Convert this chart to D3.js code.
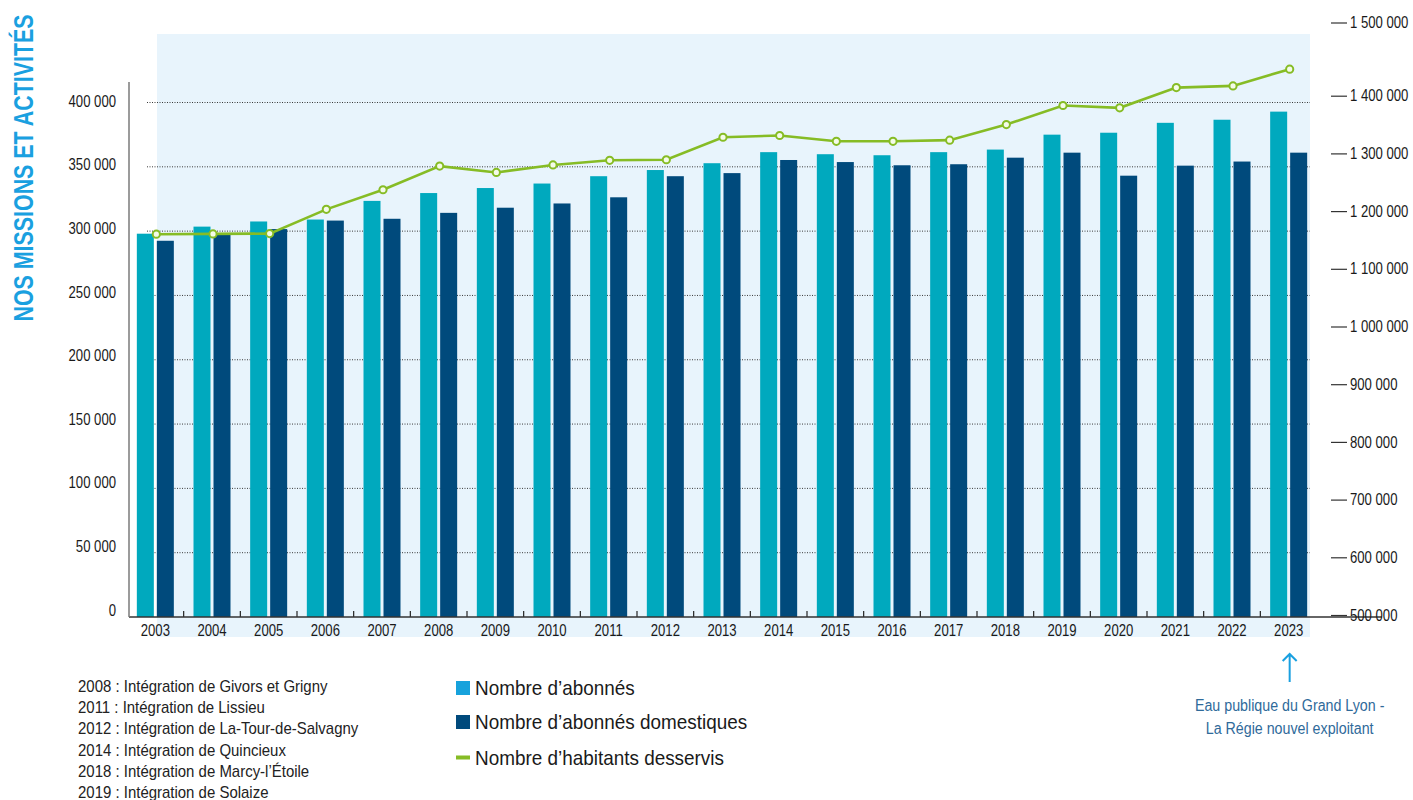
<!DOCTYPE html>
<html><head><meta charset="utf-8">
<script src="https://cdn.jsdelivr.net/npm/d3@7"></script>
<style>
body{margin:0;background:#fff;}
svg{display:block;font-family:"Liberation Sans","Arial",sans-serif;}
</style></head><body>
<svg id="c" width="1413" height="800"></svg>
<script>
const years = ["2003","2004","2005","2006","2007","2008","2009","2010","2011","2012","2013","2014","2015","2016","2017","2018","2019","2020","2021","2022","2023"];
const abonnes = [298000,303500,307500,309000,323500,329600,333500,337000,342700,347500,352800,361400,359800,359000,361400,363400,375000,376500,384200,386600,392900];
const domestiques = [292500,297000,301600,308200,309600,314200,318200,321500,326300,342700,345100,355300,353700,351200,352000,357100,361000,343100,350900,354100,361000];
const habitants = [1160000,1160500,1161000,1203000,1237000,1278000,1267000,1280000,1288000,1289000,1328000,1331000,1321000,1321000,1323000,1350000,1383000,1379000,1414000,1417000,1446000];
const leftTicks = [0,50000,100000,150000,200000,250000,300000,350000,400000];
const rightTicks = [500000,600000,700000,800000,900000,1000000,1100000,1200000,1300000,1400000];
const rightTopTick = 1500000;
const seriesNames = ["Nombre d\u2019abonnés","Nombre d\u2019abonnés domestiques","Nombre d\u2019habitants desservis"];
const footnotes = ["2008 : Intégration de Givors et Grigny","2011 : Intégration de Lissieu","2012 : Intégration de La-Tour-de-Salvagny","2014 : Intégration de Quincieux","2018 : Intégration de Marcy-l\u2019Étoile","2019 : Intégration de Solaize"];
const annotation = ["Eau publique du Grand Lyon -","La Régie nouvel exploitant"];
const title = "NOS MISSIONS ET ACTIVITÉS";

const C = {teal:"#00a9be", navy:"#004a7c", green:"#86bc25", bg:"#e8f4fc", legTeal:"#17a2dc", title:"#1aa0e0", annot:"#2f6a9a", arrow:"#1aa0e0"};
const loc = d3.formatLocale({decimal:",", thousands:"\u00a0", grouping:[3], currency:["","€"]});
const fmt = loc.format(",");

const svg = d3.select("#c");

// condensed look: squeeze text horizontally
function squeeze(sel, k){
  sel.each(function(){
    const L = this.getComputedTextLength();
    d3.select(this).attr("textLength", L*k).attr("lengthAdjust","spacingAndGlyphs");
  });
}

// plot background
svg.append("rect").attr("x",157).attr("y",34).attr("width",1310-157).attr("height",637-34).attr("fill",C.bg);

const x0 = d3.scaleBand().domain(years).range([127,1317]).paddingInner(0.347).paddingOuter(0.1735);
const x1 = d3.scaleBand().domain(["a","d"]).range([0,x0.bandwidth()]).paddingInner(0.15);
const yL = d3.scaleLinear().domain([0,400000]).range([617,102.5]);
const yLab = d3.scaleLinear().domain([0,400000]).range([610,101]);
const yR = d3.scaleLinear().domain([500000,1400000]).range([615,95.7]);

// gridlines
svg.append("g").selectAll("line").data(leftTicks.filter(d=>d>0)).join("line")
  .attr("x1",147).attr("x2",1310).attr("y1",d=>yL(d)).attr("y2",d=>yL(d))
  .attr("stroke","#3a3a3a").attr("stroke-width",1).attr("stroke-dasharray","1,1.5");

// bars
const gb = svg.append("g");
years.forEach((yr,i)=>{
  gb.append("rect").attr("x",x0(yr)+x1("a")).attr("width",x1.bandwidth())
    .attr("y",yL(abonnes[i])).attr("height",yL(0)-yL(abonnes[i])).attr("fill",C.teal);
  gb.append("rect").attr("x",x0(yr)+x1("d")).attr("width",x1.bandwidth())
    .attr("y",yL(domestiques[i])).attr("height",yL(0)-yL(domestiques[i])).attr("fill",C.navy);
});

// x ticks between groups
svg.append("g").selectAll("line").data(years.slice(1)).join("line")
  .attr("x1",d=>x0(d)-x0.step()*x0.paddingInner()/2).attr("x2",d=>x0(d)-x0.step()*x0.paddingInner()/2)
  .attr("y1",611).attr("y2",617).attr("stroke","#222").attr("stroke-width",1.2);

// baseline & left axis line
svg.append("line").attr("x1",129).attr("x2",1382).attr("y1",617).attr("y2",617).attr("stroke","#333").attr("stroke-width",1.5);
svg.append("line").attr("x1",129).attr("x2",129).attr("y1",82).attr("y2",617).attr("stroke","#7a7a7a").attr("stroke-width",1.5);

// x labels
const gx = svg.append("g").attr("transform","translate(0,617)")
  .call(d3.axisBottom(x0).tickSize(0).tickPadding(8));
gx.select(".domain").remove();
gx.selectAll("text").attr("font-size",16).attr("fill","#1a1a1a").attr("font-family",null);
squeeze(gx.selectAll("text"),0.82);

// left axis labels
const gl = svg.append("g").attr("transform","translate(116,0)")
  .call(d3.axisLeft(yLab).tickValues(leftTicks).tickSize(0).tickPadding(0).tickFormat(fmt));
gl.select(".domain").remove();
gl.selectAll("text").attr("font-size",16).attr("fill","#1a1a1a").attr("font-family",null);
squeeze(gl.selectAll("text"),0.82);

// right axis
const gr = svg.append("g").attr("transform","translate(1331,0)")
  .call(d3.axisRight(yR).tickValues(rightTicks).tickSize(16).tickPadding(3).tickFormat(fmt));
gr.select(".domain").remove();
gr.selectAll("line").attr("stroke","#333").attr("stroke-width",1.2);
gr.selectAll("text").attr("font-size",16).attr("fill","#1a1a1a").attr("font-family",null);
squeeze(gr.selectAll("text"),0.82);
const topY = yR(rightTopTick) - 15;
const gt = svg.append("g").attr("transform",`translate(1331,${topY})`);
gt.append("line").attr("x2",16).attr("stroke","#333").attr("stroke-width",1.2);
gt.append("text").attr("x",19).attr("dy","0.32em").attr("font-size",16).attr("fill","#1a1a1a").text(fmt(rightTopTick));
squeeze(gt.selectAll("text"),0.82);

// line series
const cx = d=>x0(d)+x0.bandwidth()/2+1;
const line = d3.line().x((d,i)=>cx(years[i])).y(d=>yR(d));
svg.append("path").datum(habitants).attr("d",line).attr("fill","none").attr("stroke",C.green).attr("stroke-width",2.6);
svg.append("g").selectAll("circle").data(habitants).join("circle")
  .attr("cx",(d,i)=>cx(years[i])).attr("cy",d=>yR(d)).attr("r",3.6)
  .attr("fill","#f4fbe8").attr("stroke",C.green).attr("stroke-width",2);

// title
svg.append("text").attr("transform","translate(33,168) rotate(-90)").attr("text-anchor","middle")
  .attr("font-size",28).attr("font-weight","bold").attr("fill",C.title)
  .attr("textLength",307).attr("lengthAdjust","spacingAndGlyphs").text(title);

// footnotes
const fn = svg.append("g").selectAll("text").data(footnotes).join("text")
  .attr("x",78).attr("y",(d,i)=>692+i*21.2).attr("font-size",17).attr("fill","#222").text(d=>d);
squeeze(fn,0.88);

// legend
const lg = svg.append("g");
lg.append("rect").attr("x",456).attr("y",681).attr("width",14).attr("height",14).attr("fill",C.legTeal);
lg.append("rect").attr("x",456).attr("y",715).attr("width",14).attr("height",14).attr("fill",C.navy);
lg.append("rect").attr("x",456).attr("y",755.5).attr("width",14).attr("height",4).attr("fill",C.green);
[688,722,758].forEach((y,i)=>{
  lg.append("text").attr("x",475).attr("y",y).attr("dy","0.35em").attr("font-size",21).attr("fill","#1a1a1a").text(seriesNames[i]);
});
squeeze(lg.selectAll("text"),0.90);

// annotation
const ax = cx("2023");
svg.append("path").attr("d",`M${ax},682 L${ax},654 M${ax-7},661 L${ax},654 L${ax+7},661`)
  .attr("fill","none").attr("stroke",C.arrow).attr("stroke-width",2);
const an = svg.append("g").selectAll("text").data(annotation).join("text")
  .attr("x",ax).attr("y",(d,i)=>711+i*23).attr("text-anchor","middle").attr("font-size",16).attr("fill",C.annot).text(d=>d);
squeeze(an,0.89);
</script>
</body></html>
